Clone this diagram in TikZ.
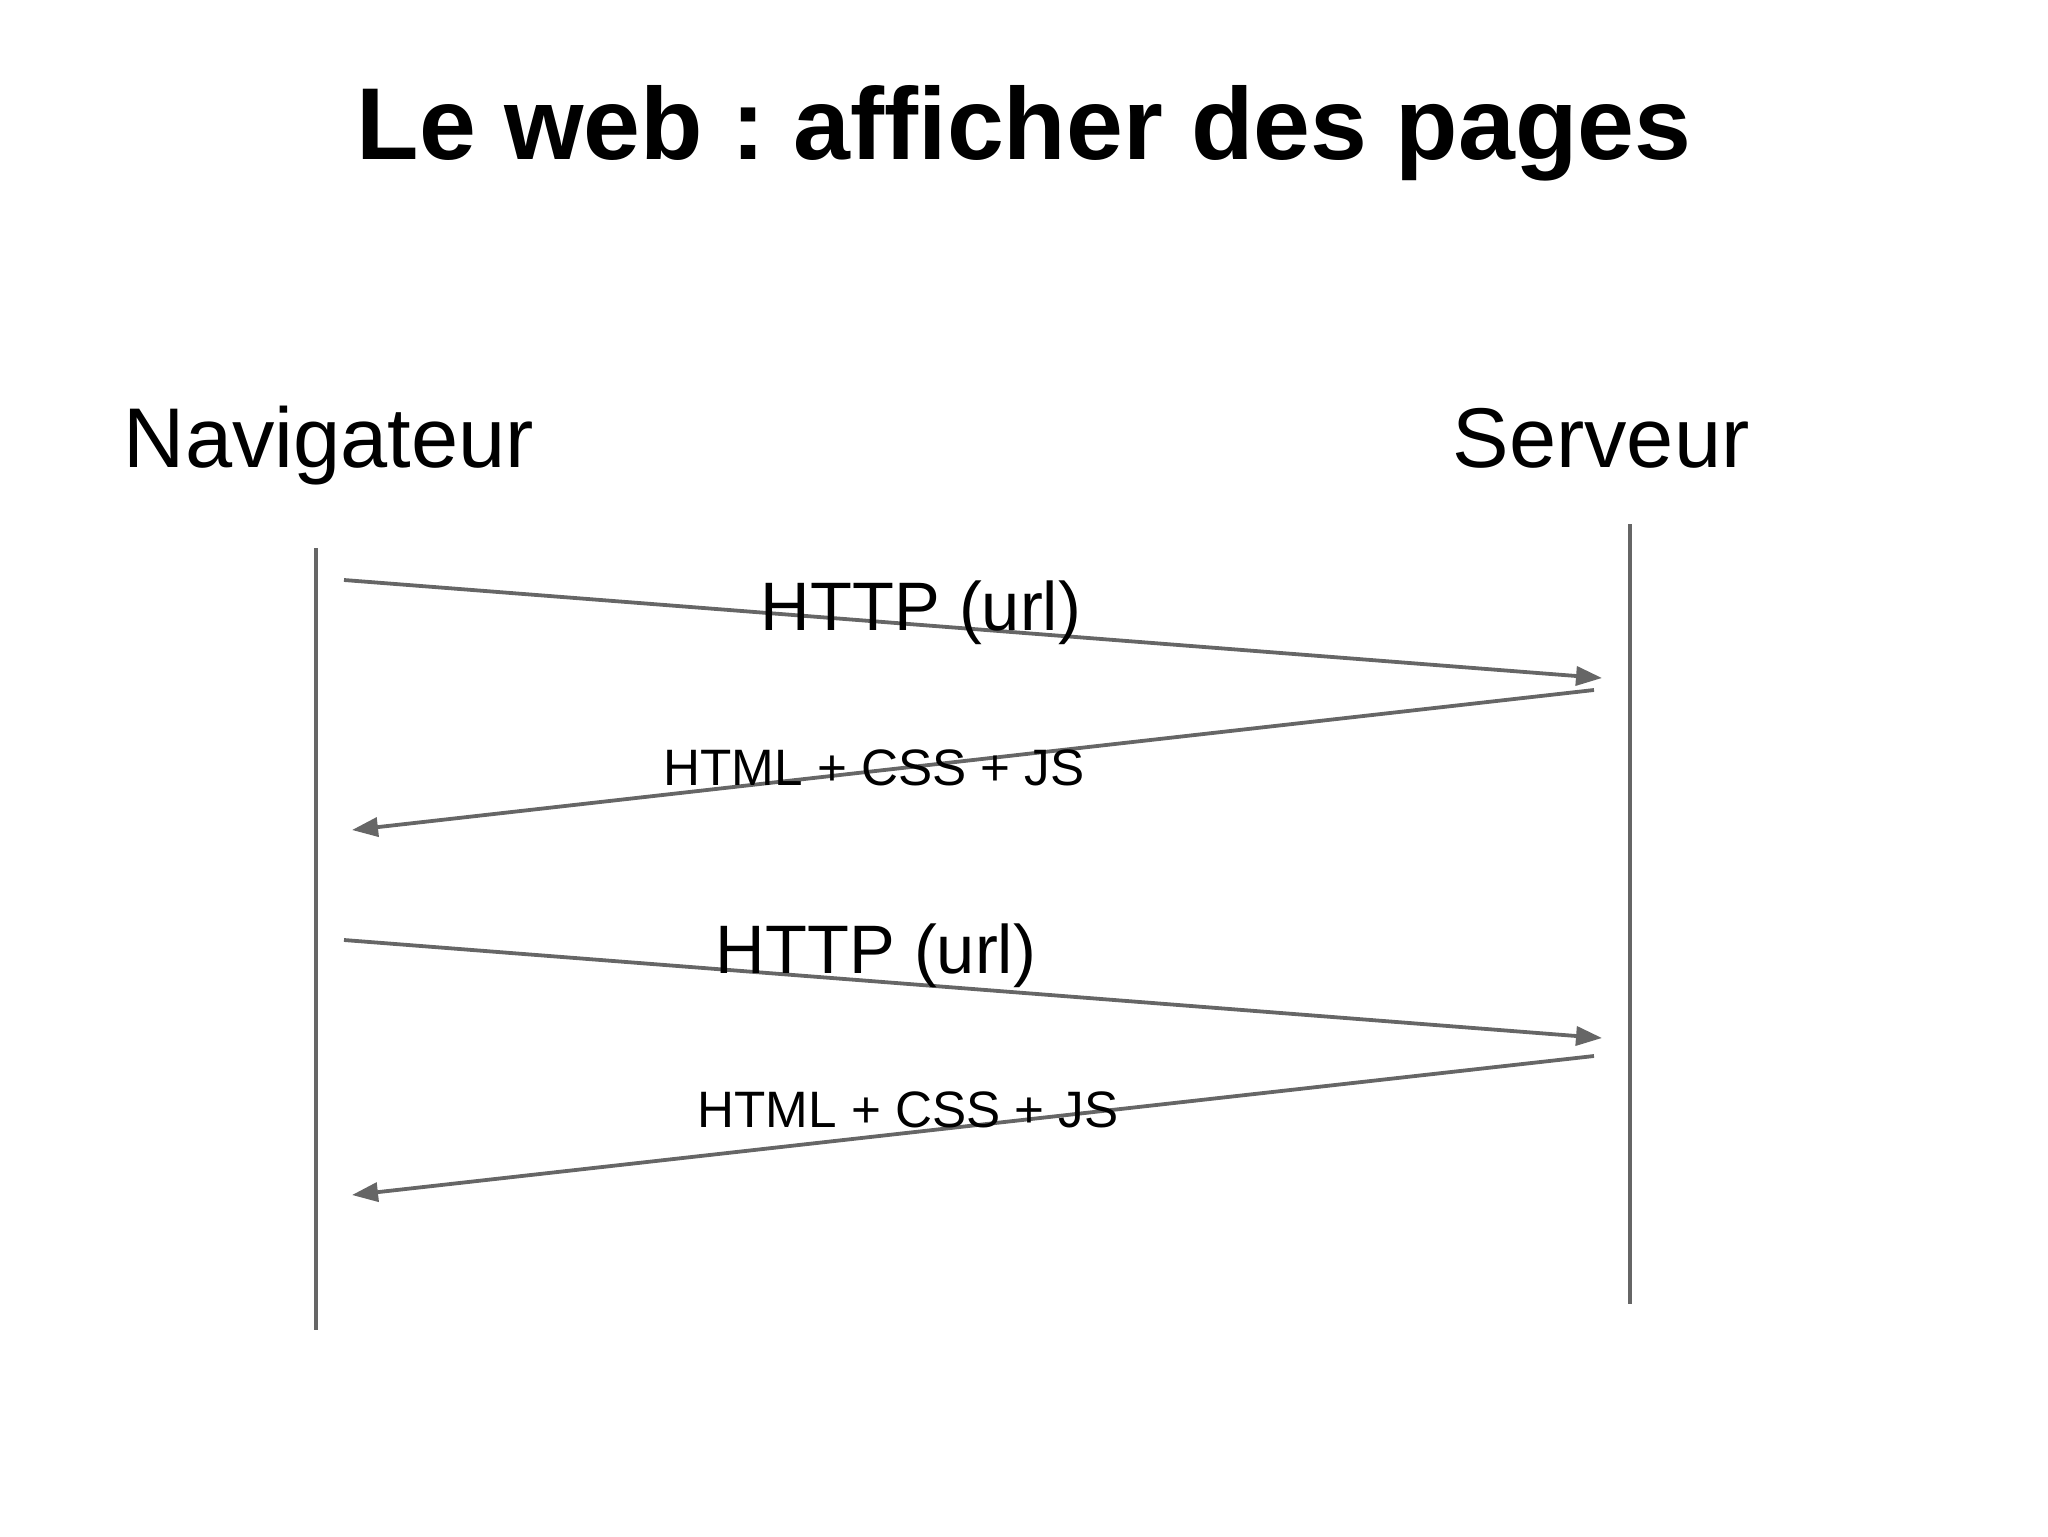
\documentclass[tikz,border=0pt]{standalone}
\usepackage{fontspec}
\setmainfont{Liberation Sans}
\usetikzlibrary{arrows.meta, positioning}
\definecolor{linegray}{HTML}{666666}
\frenchspacing

\begin{document}
\begin{tikzpicture}[x=0.5pt, y=-0.5pt,
  actor/.style={font=\fontsize{42.4}{50}\selectfont, anchor=base, inner sep=0pt},
  msg/.style={font=\fontsize{34.3}{40}\selectfont, anchor=base, inner sep=0pt},
  reply/.style={font=\fontsize{25.6}{30}\selectfont, anchor=base, inner sep=0pt},
  life/.style={draw=linegray, line width=1.9pt},
  call/.style={draw=linegray, line width=1.9pt, -{Triangle[length=13pt, width=9.5pt]}}]

  \useasboundingbox (0,0) rectangle (2048,1536);

  \node[anchor=base, inner sep=0pt, font=\bfseries\fontsize{51.1}{60}\selectfont] (title) at (1024,159) {Le web : afficher des pages};

  % the two sides
  \node[actor] (nav) at (329,467) {Navigateur};
  \node[actor] (srv) at (1601,467) {Serveur};

  \coordinate (navtop) at (316,548);
  \coordinate (navbot) at (316,1330);
  \coordinate (srvtop) at (1630,524);
  \coordinate (srvbot) at (1630,1304);
  \draw[life] (navtop) -- (navbot);
  \draw[life] (srvtop) -- (srvbot);

  % first exchange
  \coordinate (q1a) at (344,580);
  \coordinate (q1b) at (1602,678);
  \coordinate (r1a) at (1594,690);
  \coordinate (r1b) at (352,830);
  \draw[call] (q1a) -- (q1b);
  \draw[call] (r1a) -- (r1b);
  \node[msg] (get1) at (921,630) {HTTP (url)};
  \node[reply] (page1) at (874,785) {HTML + CSS + JS};

  % second exchange
  \coordinate (q2a) at (344,940);
  \coordinate (q2b) at (1602,1038);
  \coordinate (r2a) at (1594,1056);
  \coordinate (r2b) at (352,1195);
  \draw[call] (q2a) -- (q2b);
  \draw[call] (r2a) -- (r2b);
  \node[msg] (get2) at (876,973) {HTTP (url)};
  \node[reply] (page2) at (908,1127) {HTML + CSS + JS};
\end{tikzpicture}
\end{document}
